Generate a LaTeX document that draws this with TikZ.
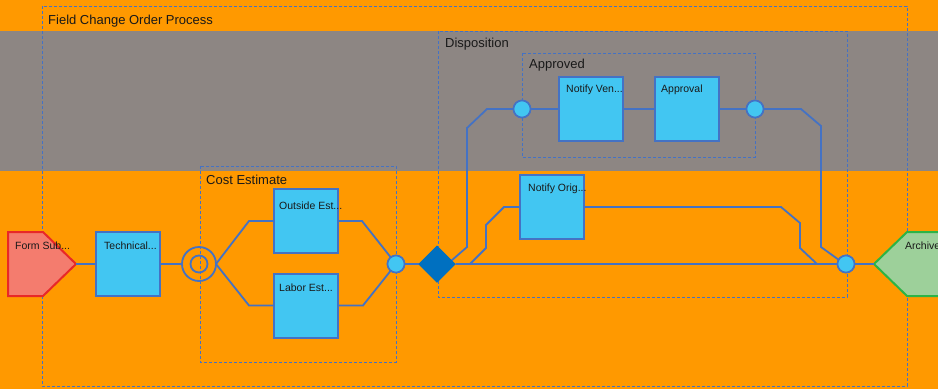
\documentclass[tikz,border=0pt]{standalone}
\usepackage{fontspec}
\setmainfont{Liberation Sans}
\usetikzlibrary{shapes.geometric,calc}
\definecolor{bgorange}{RGB}{255,153,0}
\definecolor{bandgray}{RGB}{141,134,131}
\definecolor{edgeblue}{RGB}{68,114,196}
\definecolor{taskblue}{RGB}{66,198,242}
\definecolor{gateblue}{RGB}{0,112,192}
\definecolor{startfill}{RGB}{244,124,110}
\definecolor{startline}{RGB}{232,40,40}
\definecolor{endfill}{RGB}{157,208,154}
\definecolor{endline}{RGB}{44,180,70}
\definecolor{txt}{RGB}{25,25,25}
\begin{document}
\begin{tikzpicture}[x=1pt,y=-1pt,
  taskbox/.style={draw=edgeblue, line width=2pt, fill=taskblue, minimum width=64pt, minimum height=64pt, inner sep=0pt, outer sep=0pt},
  evt/.style={circle, draw=edgeblue, line width=1.6pt, fill=taskblue, minimum size=17pt, inner sep=0pt, outer sep=0pt},
  gwy/.style={diamond, fill=gateblue, minimum width=37pt, minimum height=37pt, inner sep=0pt, outer sep=0pt},
  flow/.style={draw=edgeblue, line width=1.8pt, line join=miter},
  grp/.style={draw=edgeblue, line width=0.9pt, dash pattern=on 3pt off 2pt},
  startshape/.style={draw=startline, line width=2pt, fill=startfill, line join=miter},
  endshape/.style={draw=endline, line width=2pt, fill=endfill, line join=miter},
  biglbl/.style={anchor=base west, inner sep=0pt, text=txt, font=\fontsize{13}{15}\selectfont},
  smalllbl/.style={anchor=base west, inner sep=0pt, text=txt, font=\fontsize{10.5}{12}\selectfont}
]
\clip (0,0) rectangle (938,389);
% background lanes
\fill[bgorange] (0,0) rectangle (938,389);
\fill[bandgray] (0,31) rectangle (938,171);
% groups
\draw[grp] (42,6) rectangle (907,386);
\draw[grp] (200,166) rectangle (396,362);
\draw[grp] (438,31) rectangle (847,297);
\draw[grp] (522,53) rectangle (755,157);
\node[biglbl] (lblProc) at (48,24) {Field Change Order Process};
\node[biglbl] (lblCost) at (206,184) {Cost Estimate};
\node[biglbl] (lblDisp) at (445,47) {Disposition};
\node[biglbl] (lblAppr) at (529,68) {Approved};
% start and end events (pentagons)
\coordinate (startTip) at (76,264);
\coordinate (archTip) at (874,264);
\draw[startshape] (8,232) -- (43,232) -- (startTip) -- (43,296) -- (8,296) -- cycle;
\draw[endshape] (950,232) -- (907,232) -- (archTip) -- (907,296) -- (950,296) -- cycle;
% nodes
\node[taskbox] (tech) at (128,264) {};
\node[circle, draw=edgeblue, line width=1.8pt, minimum size=34pt, inner sep=0pt, outer sep=0pt] (inter) at (199,264) {};
\node[circle, draw=edgeblue, line width=1.8pt, minimum size=17pt, inner sep=0pt, outer sep=0pt] (interIn) at (199,264) {};
\node[taskbox] (outside) at (306,221) {};
\node[taskbox] (labor) at (306,305.5) {};
\node[evt] (evC) at (396,264) {};
\node[gwy] (gw) at (437,264) {};
\node[evt] (evA) at (522,109) {};
\node[taskbox] (vendor) at (590.5,109) {};
\node[taskbox] (approval) at (687,109) {};
\node[evt] (evB) at (755,109) {};
\node[taskbox] (orig) at (552,207) {};
\node[evt] (evEnd) at (846,264) {};
% connectors
\path[flow] (startTip) -- (tech.west);
\path[flow] (tech.east) -- (inter.west);
\path[flow] (inter.east) -- (249,221) -- (outside.west);
\path[flow] (inter.east) -- (249,305.5) -- (labor.west);
\path[flow] (outside.east) -- (362,221) -- (evC);
\path[flow] (labor.east) -- (363,305.5) -- (evC);
\path[flow] (evC.east) -- (gw.west);
\path[flow] ($(gw.east)!0.2!(gw.north)$) -- (467,247) -- (467,128) -- (487,109) -- (evA.west);
\path[flow] (evA.east) -- (vendor.west);
\path[flow] (vendor.east) -- (approval.west);
\path[flow] (approval.east) -- (evB.west);
\path[flow] (evB.east) -- (801,109) -- (821,126) -- (821,247) -- (evEnd.150);
\path[flow] (gw.east) -- (470,264) -- (486,248) -- (486,225) -- (504,207) -- (orig.west);
\path[flow] (orig.east) -- (781,207) -- (800,223) -- (800,248) -- (817,264) -- (evEnd.west);
\path[flow] (gw.east) -- (evEnd.west);
\path[flow] (evEnd.east) -- (archTip);
% redraw nodes on top of connectors
\node[evt] at (evC) {};
\node[evt] at (evA) {};
\node[evt] at (evB) {};
\node[evt] at (evEnd) {};
\node[gwy] at (gw) {};
% task labels
\node[smalllbl] (tStart) at (15,249) {Form Sub...};
\node[smalllbl] (tTech) at (104,249) {Technical...};
\node[smalllbl] (tOut) at (279,209) {Outside Est...};
\node[smalllbl] (tLab) at (279,291.5) {Labor Est...};
\node[smalllbl] (tVen) at (566,92) {Notify Ven...};
\node[smalllbl] (tAppr) at (661,92) {Approval};
\node[smalllbl] (tOrig) at (528,191.5) {Notify Orig...};
\node[smalllbl] (tArch) at (905,249) {Archive};
\end{tikzpicture}
\end{document}
